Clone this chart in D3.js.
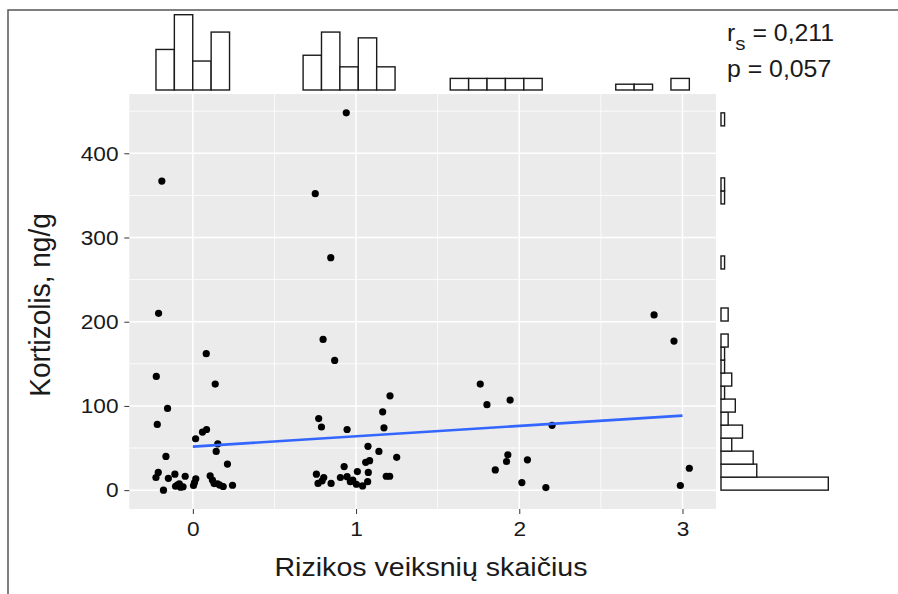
<!DOCTYPE html>
<meta charset="utf-8">
<style>
    body { margin: 0; background: #fff; }
    text { font-family: "Liberation Sans", Arial, sans-serif; fill: #1a1a1a; }
    .grid-major { stroke: #fff; stroke-width: 1.5px; }
    .grid-minor { stroke: #fff; stroke-width: 0.8px; }
    .axis path { display: none; }
    .axis line { stroke: #333; }
    .hist rect { fill: #fff; stroke: #1a1a1a; stroke-width: 1.4px; }
</style>
<body>
<svg width="898" height="594"></svg>
</body>
<script src="https://d3js.org/d3.v7.min.js"></script>
<script>

    // jittered number of risk factors and cortisol (ng/g), one entry per child
    var riskX = [
        -0.19, -0.21, 0.082, -0.224, 0.137, -0.155, -0.218, 0.059, 0.084, 0.017,
        0.153, 0.143, -0.165, 0.212, -0.212, -0.226, -0.15, -0.11, -0.047, 0.018,
        0.106, -0.18, -0.106, -0.075, -0.083, 0.004, 0.13, 0.151, 0.186, 0.243,
        -0.095, -0.06, 0.01, 0.12, 0.165,
        0.94, 0.75, 0.845, 0.798, 0.869, 1.208, 1.163, 0.771, 0.788, 0.945,
        1.171, 1.073, 1.14, 1.249, 1.059, 1.083, 0.927, 1.008, 1.075, 0.757,
        0.802, 0.847, 0.767, 0.904, 0.945, 0.965, 1.002, 1.071, 1.185, 1.206,
        0.792, 0.98, 1.04,
        1.761, 1.802, 1.944, 2.201, 1.93, 1.922, 2.05, 1.853, 2.016, 2.163,
        2.826, 2.948, 3.042, 2.987
    ];
    var cortisol = [
        367, 210, 162, 135, 126, 97, 78, 69, 72, 61,
        55, 46, 40, 31, 21, 15, 14, 19, 16.5, 13.4,
        17, 0, 4.6, 3.4, 7.5, 5.5, 7.8, 7.5, 4.3, 5.8,
        6, 4, 9, 12, 6,
        448, 352, 276, 179, 154, 112, 93, 85, 75, 72,
        74, 52, 46, 39, 33, 35, 28, 22, 21, 19,
        15, 8, 8, 15, 16, 10, 7, 10, 16.5, 16.5,
        11, 12, 5,
        126, 101.5, 107, 77, 42, 34, 36, 24, 9, 3,
        208, 177, 26, 5.5
    ];

    // linear fit, ends at 0 and 3 risk factors
    var fitX = [0, 3];
    var fitY = [51.7, 88.5];

    // marginal histogram counts (29 bins each)
    var topCounts = [7, 13, 5, 10, 0, 0, 0, 0, 6, 10, 4, 9, 4, 0, 0, 0, 2, 2, 2, 2, 2, 0, 0, 0, 0, 1, 1, 0, 2];
    var rightCounts = [30, 10, 9, 3, 6, 2, 4, 1, 3, 1, 1, 2, 0, 2, 0, 0, 0, 1, 0, 0, 0, 0, 1, 1, 0, 0, 0, 0, 1];

    var xTicks = [0, 1, 2, 3], xMinor = [0.5, 1.5, 2.5];
    var yTicks = [0, 100, 200, 300, 400], yMinor = [50, 150, 250, 350, 450];

    var statLines = [["r", "s", " = 0,211"], ["p", "", " = 0,057"]];

    var svg = d3.select("svg");
    var sx = 1.08;   // the source picture is a bit wider than tall

    var panel = {left: 129.3, right: 716, top: 94, bottom: 509};

    var points = riskX.map(function (d, i) { return {x: d, y: cortisol[i]}; });

    // ggplot style 5% expansion
    var xExt = d3.extent(riskX), yExt = d3.extent(cortisol);
    var xPad = (xExt[1] - xExt[0]) * 0.05, yPad = (yExt[1] - yExt[0]) * 0.05;

    var x = d3.scaleLinear().domain([xExt[0] - xPad, xExt[1] + xPad]).range([panel.left, panel.right]);
    var y = d3.scaleLinear().domain([yExt[0] - yPad, yExt[1] + yPad]).range([panel.bottom, panel.top]);

    // frame of the original figure
    svg.append("path")
            .attr("d", "M8,594V10H898")
            .attr("fill", "none")
            .attr("stroke", "#555")
            .attr("stroke-width", 1.5);

    // panel background and grid
    svg.append("rect")
            .attr("x", panel.left).attr("y", panel.top)
            .attr("width", panel.right - panel.left)
            .attr("height", panel.bottom - panel.top)
            .attr("fill", "#ebebeb");

    var grid = svg.append("g");
    grid.selectAll(".gx-minor").data(xMinor).enter().append("line")
            .attr("class", "grid-minor")
            .attr("x1", x).attr("x2", x)
            .attr("y1", panel.top).attr("y2", panel.bottom);
    grid.selectAll(".gy-minor").data(yMinor).enter().append("line")
            .attr("class", "grid-minor")
            .attr("y1", y).attr("y2", y)
            .attr("x1", panel.left).attr("x2", panel.right);
    grid.selectAll(".gx").data(xTicks).enter().append("line")
            .attr("class", "grid-major")
            .attr("x1", x).attr("x2", x)
            .attr("y1", panel.top).attr("y2", panel.bottom);
    grid.selectAll(".gy").data(yTicks).enter().append("line")
            .attr("class", "grid-major")
            .attr("y1", y).attr("y2", y)
            .attr("x1", panel.left).attr("x2", panel.right);

    // points
    svg.append("g").selectAll("circle")
            .data(points)
            .enter().append("circle")
            .attr("cx", function (d) { return x(d.x); })
            .attr("cy", function (d) { return y(d.y); })
            .attr("r", 3.6)
            .attr("fill", "#000");

    // regression line
    svg.append("path")
            .datum(fitX.map(function (d, i) { return [d, fitY[i]]; }))
            .attr("fill", "none")
            .attr("stroke", "#3366ff")
            .attr("stroke-width", 2.6)
            .attr("d", d3.line().x(function (d) { return x(d[0]); }).y(function (d) { return y(d[1]); }));

    // axes
    svg.append("g")
            .attr("class", "axis")
            .attr("transform", "translate(0," + panel.bottom + ")")
            .call(d3.axisBottom(x).tickValues(xTicks).tickSize(5).tickPadding(7).tickFormat(d3.format("d")));
    svg.append("g")
            .attr("class", "axis")
            .attr("transform", "translate(" + panel.left + ",0)")
            .call(d3.axisLeft(y).tickValues(yTicks).tickSize(5).tickPadding(5).tickFormat(d3.format("d")));

    svg.selectAll(".axis text")
            .style("font-size", "21px")
            .style("font-family", "'Liberation Sans', Arial, sans-serif")
            .attr("fill", "#1a1a1a")
            .attr("transform", "scale(" + sx + ",1)");

    svg.append("text")
            .attr("transform", "translate(431,576) scale(" + (sx + 0.02) + ",1)")
            .attr("text-anchor", "middle")
            .style("font-size", "26px")
            .text("Rizikos veiksnių skaičius");

    svg.append("text")
            .attr("transform", "translate(50,305) scale(" + sx + ",1) rotate(-90)")
            .attr("text-anchor", "middle")
            .style("font-size", "28px")
            .text("Kortizolis, ng/g");

    // top marginal histogram
    var topBinW = (xExt[1] - xExt[0]) / topCounts.length;
    var topY = d3.scaleLinear().domain([0, 13]).range([90, 14.7]);
    svg.append("g").attr("class", "hist")
            .selectAll("rect")
            .data(topCounts)
            .enter().append("rect")
            .attr("x", function (d, i) { return x(xExt[0] + i * topBinW); })
            .attr("width", function (d, i) { return x(xExt[0] + (i + 1) * topBinW) - x(xExt[0] + i * topBinW); })
            .attr("y", function (d) { return topY(d); })
            .attr("height", function (d) { return topY(0) - topY(d); });

    // right marginal histogram
    var rightBinW = (yExt[1] - yExt[0]) / rightCounts.length;
    var rightX = d3.scaleLinear().domain([0, 30]).range([721, 828.3]);
    svg.append("g").attr("class", "hist")
            .selectAll("rect")
            .data(rightCounts)
            .enter().append("rect")
            .attr("x", rightX(0))
            .attr("width", function (d) { return rightX(d) - rightX(0); })
            .attr("y", function (d, i) { return y(yExt[0] + (i + 1) * rightBinW); })
            .attr("height", function (d, i) { return y(yExt[0] + i * rightBinW) - y(yExt[0] + (i + 1) * rightBinW); });

    // Spearman annotation
    var stat = svg.append("g");
    statLines.forEach(function (s, i) {
        var t = stat.append("text")
                .attr("transform", "translate(727," + (41 + i * 36) + ") scale(" + sx + ",1)")
                .style("font-size", "23px");
        t.append("tspan").text(s[0]);
        if (s[1]) {
            t.append("tspan").attr("dy", 9).style("font-size", "19px").text(s[1]);
            t.append("tspan").attr("dy", -9).text(s[2]);
        } else {
            t.append("tspan").text(s[2]);
        }
    });

</script>
